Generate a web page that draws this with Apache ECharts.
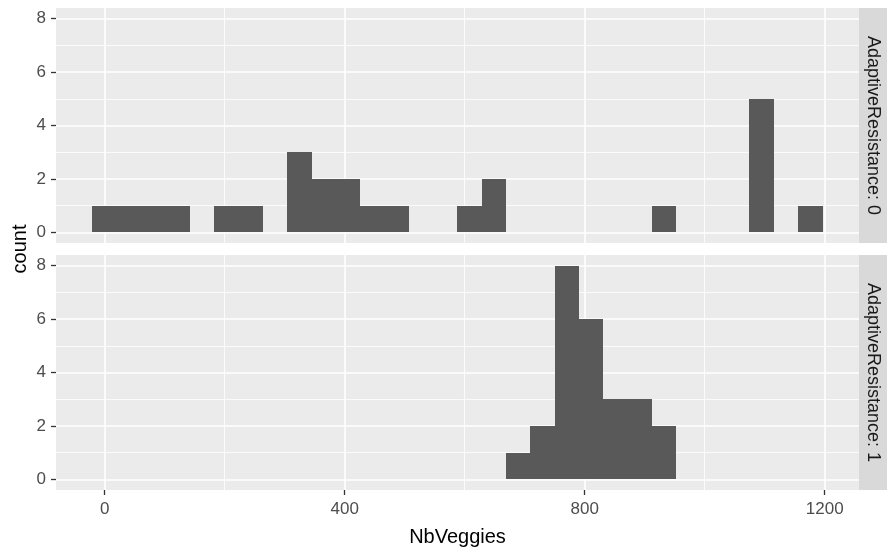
<!DOCTYPE html>
<html><head><meta charset="utf-8">
<script src="https://cdn.jsdelivr.net/npm/echarts@6/dist/echarts.min.js"></script>
<style>html,body{margin:0;padding:0;background:#fff}#c{width:887px;height:553px}</style>
</head><body><div id="c"></div>
<script>
// histogram bin edges (shared by both facets)
const binEdges = [-20.3, 20.3, 60.8, 101.4, 141.9, 182.5, 223.0, 263.6, 304.1, 344.7, 385.2,
  425.8, 466.3, 506.9, 547.4, 587.9, 628.5, 669.0, 709.6, 750.2, 790.7, 831.3, 871.8, 912.4,
  952.9, 993.5, 1034.0, 1074.6, 1115.1, 1155.7, 1196.3];
// counts per bin, AdaptiveResistance = 0
const counts0 = [1,1,1,1,0,1,1,0,3,2,2,1,1,0,0,1,2,0,0,0,0,0,0,1,0,0,0,5,0,1];
// counts per bin, AdaptiveResistance = 1
const counts1 = [0,0,0,0,0,0,0,0,0,0,0,0,0,0,0,0,0,1,2,8,6,3,3,2,0,0,0,0,0,0];
const facetLabels = ['AdaptiveResistance: 0', 'AdaptiveResistance: 1'];
const xTicks = [0, 400, 800, 1200];
const xMinorTicks = [200, 600, 1000];
const yTicks = [0, 2, 4, 6, 8];
const yMinorTicks = [1, 3, 5, 7];
const xTitle = 'NbVeggies';
const yTitle = 'count';

const FONT = '"Liberation Sans", Arial, sans-serif';
const X_MIN = -81.1, X_MAX = 1257.1, Y_MIN = -0.4, Y_MAX = 8.4;
const PL = 56, PW = 803, PH = 235;
const panelTops = [8, 255];

function toBars(counts) {
  const out = [];
  counts.forEach((c, i) => { if (c > 0) out.push([binEdges[i], binEdges[i + 1], c]); });
  return out;
}
const plain = v => String(v);

const grids = [], xAxes = [], yAxes = [], series = [], graphics = [];
[counts0, counts1].forEach((counts, g) => {
  grids.push({ left: PL, top: panelTops[g], width: PW, height: PH, show: true,
    backgroundColor: '#EBEBEB', borderWidth: 0, containLabel: false });
  const isBottom = g === 1;
  // major x axis
  xAxes.push({ type: 'value', gridIndex: g, min: X_MIN, max: X_MAX, position: 'bottom',
    axisLine: { show: false, onZero: false },
    axisTick: { show: isBottom, customValues: xTicks, length: 5, lineStyle: { color: '#333333', width: 1.3 } },
    axisLabel: { show: isBottom, customValues: xTicks, formatter: plain, color: '#4D4D4D', fontSize: 17, fontFamily: FONT, margin: 11 },
    splitLine: { show: true, lineStyle: { color: '#FFFFFF', width: 1.6 } },
    name: isBottom ? xTitle : '', nameLocation: 'middle', nameGap: 37,
    nameTextStyle: { color: '#000000', fontSize: 20, fontFamily: FONT }
  });
  // minor x axis (gridlines only)
  xAxes.push({ type: 'value', gridIndex: g, min: X_MIN, max: X_MAX, position: 'bottom',
    axisLine: { show: false, onZero: false }, axisTick: { show: false, customValues: xMinorTicks },
    axisLabel: { show: false, customValues: xMinorTicks },
    splitLine: { show: true, lineStyle: { color: '#FFFFFF', width: 0.8 } } });
  // major y axis
  yAxes.push({ type: 'value', gridIndex: g, min: Y_MIN, max: Y_MAX, position: 'left',
    axisLine: { show: false, onZero: false },
    axisTick: { show: true, customValues: yTicks, length: 5, lineStyle: { color: '#333333', width: 1.3 } },
    axisLabel: { show: true, customValues: yTicks, formatter: plain, color: '#4D4D4D', fontSize: 17, fontFamily: FONT, margin: 10,
      padding: [5, 0, 0, 0] },
    splitLine: { show: true, lineStyle: { color: '#FFFFFF', width: 1.6 } } });
  // minor y axis (gridlines only)
  yAxes.push({ type: 'value', gridIndex: g, min: Y_MIN, max: Y_MAX, position: 'left',
    axisLine: { show: false, onZero: false }, axisTick: { show: false, customValues: yMinorTicks },
    axisLabel: { show: false, customValues: yMinorTicks },
    splitLine: { show: true, lineStyle: { color: '#FFFFFF', width: 0.8 } } });

  series.push({
    type: 'custom', xAxisIndex: g * 2, yAxisIndex: g * 2, data: toBars(counts),
    encode: { x: [0, 1], y: 2 },
    renderItem: function (params, api) {
      const p0 = api.coord([api.value(0), 0]);
      const p1 = api.coord([api.value(1), api.value(2)]);
      const x0 = Math.round(p0[0]), x1 = Math.round(p1[0]);
      const yb = Math.round(p0[1]), yt = Math.round(p1[1]);
      return { type: 'rect', shape: { x: x0, y: yt, width: x1 - x0, height: yb - yt },
        style: { fill: '#595959' } };
    }
  });

  // facet strip
  graphics.push({ type: 'rect', shape: { x: PL + PW, y: panelTops[g], width: 28, height: PH },
    style: { fill: '#D9D9D9' }, z: 10 });
  graphics.push({ type: 'text', x: PL + PW + 14, y: panelTops[g] + PH / 2, rotation: -Math.PI / 2, z: 11,
    style: { text: facetLabels[g], fill: '#1A1A1A', font: '18px ' + FONT, align: 'center', verticalAlign: 'middle' } });
});

graphics.push({ type: 'text', x: 20, y: 249, rotation: Math.PI / 2, z: 11,
  style: { text: yTitle, fill: '#000000', font: '20px ' + FONT, align: 'center', verticalAlign: 'middle' } });

const chart = echarts.init(document.getElementById('c'), null, { renderer: 'canvas' });
chart.setOption({
  animation: false,
  backgroundColor: '#FFFFFF',
  grid: grids, xAxis: xAxes, yAxis: yAxes, series: series, graphic: graphics
});
</script></body></html>
